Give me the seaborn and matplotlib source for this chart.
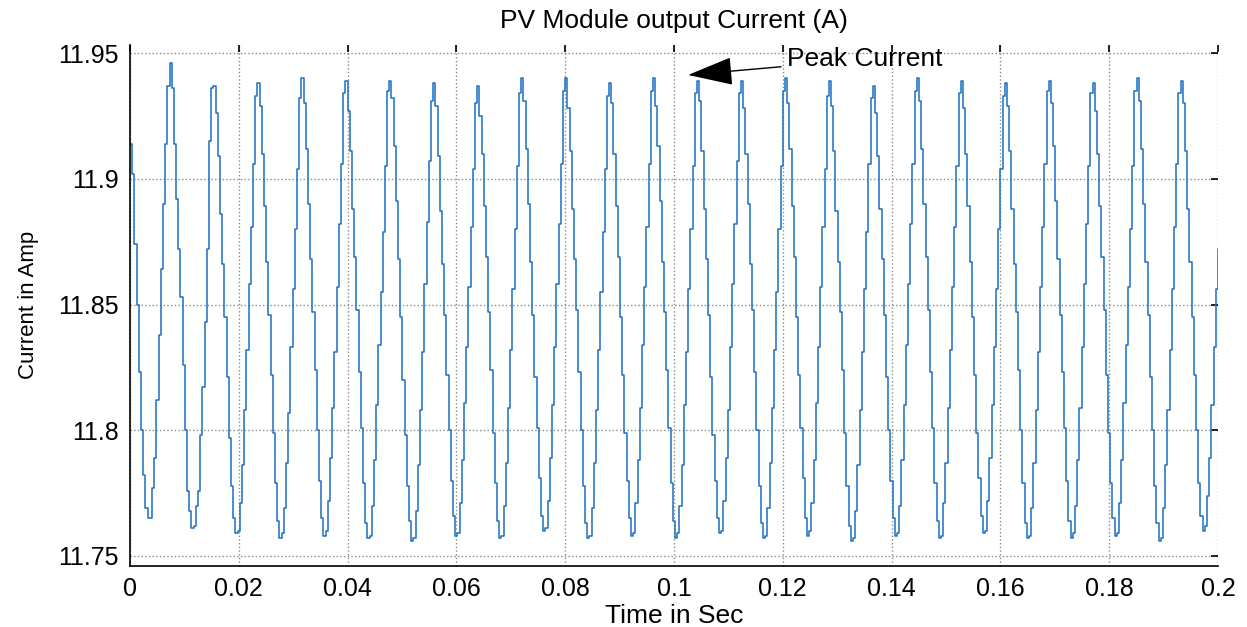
import matplotlib
matplotlib.use("Agg")
from matplotlib import pyplot as plt
import seaborn as sns
import pandas as pd
import numpy as np

# PV module output current (zero-order hold samples)
start_samples = [11.914, 11.902, 11.874, 11.850, 11.823, 11.800, 11.782, 11.769, 11.765,
                 11.765, 11.777, 11.789, 11.812, 11.838, 11.864, 11.890, 11.914, 11.937]
cycles = [
    [11.946, 11.936, 11.914, 11.892, 11.872, 11.853, 11.826, 11.800, 11.776, 11.768, 11.761, 11.762, 11.770, 11.776, 11.798, 11.817, 11.843, 11.872, 11.915, 11.936],
    [11.937, 11.926, 11.909, 11.886, 11.866, 11.845, 11.821, 11.797, 11.778, 11.765, 11.759, 11.760, 11.771, 11.786, 11.808, 11.832, 11.858, 11.881, 11.906, 11.933],
    [11.938, 11.929, 11.910, 11.889, 11.867, 11.846, 11.822, 11.799, 11.779, 11.764, 11.757, 11.759, 11.769, 11.787, 11.807, 11.833, 11.856, 11.880, 11.904, 11.932],
    [11.940, 11.930, 11.912, 11.890, 11.868, 11.847, 11.824, 11.800, 11.780, 11.765, 11.758, 11.760, 11.772, 11.789, 11.809, 11.831, 11.857, 11.882, 11.906, 11.934],
    [11.939, 11.927, 11.911, 11.888, 11.869, 11.848, 11.823, 11.801, 11.779, 11.763, 11.757, 11.758, 11.770, 11.788, 11.810, 11.834, 11.855, 11.879, 11.905, 11.935],
    [11.939, 11.932, 11.913, 11.891, 11.868, 11.845, 11.820, 11.798, 11.778, 11.764, 11.756, 11.757, 11.768, 11.786, 11.808, 11.831, 11.858, 11.883, 11.907, 11.931],
    [11.938, 11.929, 11.909, 11.887, 11.866, 11.846, 11.822, 11.800, 11.780, 11.766, 11.758, 11.759, 11.771, 11.788, 11.811, 11.833, 11.857, 11.881, 11.904, 11.930],
    [11.937, 11.925, 11.910, 11.889, 11.869, 11.847, 11.824, 11.799, 11.779, 11.764, 11.757, 11.758, 11.770, 11.787, 11.809, 11.832, 11.856, 11.880, 11.905, 11.934],
    [11.940, 11.931, 11.912, 11.890, 11.867, 11.846, 11.821, 11.801, 11.781, 11.766, 11.760, 11.761, 11.772, 11.789, 11.810, 11.833, 11.858, 11.882, 11.906, 11.935],
    [11.940, 11.928, 11.911, 11.888, 11.868, 11.848, 11.823, 11.800, 11.778, 11.763, 11.757, 11.758, 11.769, 11.787, 11.808, 11.832, 11.855, 11.879, 11.904, 11.933],
    [11.938, 11.930, 11.910, 11.889, 11.869, 11.845, 11.822, 11.799, 11.780, 11.765, 11.758, 11.759, 11.771, 11.788, 11.809, 11.834, 11.857, 11.881, 11.906, 11.935],
    [11.940, 11.929, 11.913, 11.891, 11.867, 11.847, 11.824, 11.801, 11.779, 11.764, 11.757, 11.759, 11.770, 11.786, 11.810, 11.831, 11.856, 11.880, 11.905, 11.934],
    [11.939, 11.931, 11.911, 11.888, 11.868, 11.846, 11.821, 11.798, 11.780, 11.765, 11.759, 11.760, 11.772, 11.789, 11.808, 11.833, 11.858, 11.882, 11.907, 11.934],
    [11.939, 11.928, 11.910, 11.890, 11.866, 11.848, 11.823, 11.800, 11.778, 11.763, 11.757, 11.758, 11.769, 11.787, 11.809, 11.832, 11.855, 11.880, 11.905, 11.935],
    [11.940, 11.930, 11.912, 11.889, 11.869, 11.845, 11.822, 11.801, 11.781, 11.765, 11.758, 11.760, 11.771, 11.788, 11.811, 11.833, 11.857, 11.881, 11.904, 11.933],
    [11.939, 11.929, 11.911, 11.887, 11.867, 11.847, 11.824, 11.799, 11.778, 11.762, 11.756, 11.757, 11.768, 11.786, 11.808, 11.831, 11.856, 11.879, 11.906, 11.932],
    [11.937, 11.926, 11.909, 11.888, 11.868, 11.846, 11.821, 11.800, 11.780, 11.765, 11.758, 11.759, 11.770, 11.788, 11.810, 11.834, 11.858, 11.882, 11.906, 11.935],
    [11.940, 11.931, 11.912, 11.890, 11.869, 11.848, 11.823, 11.801, 11.779, 11.764, 11.757, 11.758, 11.771, 11.787, 11.809, 11.832, 11.857, 11.881, 11.905, 11.934],
    [11.939, 11.928, 11.910, 11.889, 11.867, 11.845, 11.822, 11.799, 11.781, 11.766, 11.759, 11.760, 11.772, 11.789, 11.810, 11.833, 11.856, 11.880, 11.904, 11.933],
    [11.938, 11.929, 11.911, 11.888, 11.866, 11.847, 11.824, 11.800, 11.779, 11.763, 11.757, 11.758, 11.769, 11.787, 11.808, 11.831, 11.857, 11.881, 11.906, 11.935],
    [11.939, 11.930, 11.913, 11.891, 11.868, 11.846, 11.823, 11.801, 11.780, 11.764, 11.757, 11.759, 11.770, 11.788, 11.809, 11.833, 11.858, 11.882, 11.905, 11.934],
    [11.938, 11.927, 11.910, 11.889, 11.869, 11.848, 11.822, 11.799, 11.779, 11.765, 11.758, 11.759, 11.771, 11.788, 11.811, 11.834, 11.857, 11.880, 11.905, 11.935],
    [11.940, 11.931, 11.912, 11.890, 11.867, 11.846, 11.821, 11.800, 11.778, 11.763, 11.756, 11.757, 11.769, 11.786, 11.808, 11.832, 11.856, 11.881, 11.906, 11.934],
    [11.939, 11.930, 11.911, 11.888, 11.867, 11.845, 11.822, 11.800, 11.779, 11.766, 11.760, 11.762, 11.774, 11.789, 11.810, 11.833, 11.856, 11.872],
]
t_end = 0.2

x_ticks = [0, 0.02, 0.04, 0.06, 0.08, 0.1, 0.12, 0.14, 0.16, 0.18, 0.2]
x_labels = ["0", "0.02", "0.04", "0.06", "0.08", "0.1", "0.12", "0.14", "0.16", "0.18", "0.2"]
y_ticks = [11.75, 11.8, 11.85, 11.9, 11.95]
y_labels = ["11.75", "11.8", "11.85", "11.9", "11.95"]

current = start_samples + [v for c in cycles for v in c]
df = pd.DataFrame({"time": np.linspace(0, t_end, len(current)), "current": current})

sns.set_style("white")
plt.rcParams["font.family"] = ["Liberation Sans", "DejaVu Sans"]
plt.rcParams["text.color"] = "black"
plt.rcParams["axes.labelcolor"] = "black"

fig = plt.figure(figsize=(12.47, 6.27), dpi=100)
ax = fig.add_axes([0.1042, 0.0973, 0.8725, 0.8317])

sns.lineplot(data=df, x="time", y="current", ax=ax, color="#1a6fc4",
             linewidth=1.1, drawstyle="steps-post", estimator=None, sort=False)

ax.set_xlim(0, 0.2)
ax.set_ylim(11.746, 11.9534)
ax.set_xticks(x_ticks)
ax.set_xticklabels(x_labels)
ax.set_yticks(y_ticks)
ax.set_yticklabels(y_labels)
ax.tick_params(direction="in", length=5, width=1.2, labelsize=18, colors="black",
               top=True, right=True, pad=8)
ax.grid(True, color="#8a8a8a", linestyle=":", linewidth=1.0)

for side in ["top", "right"]:
    ax.spines[side].set_visible(False)
for side in ["left", "bottom"]:
    ax.spines[side].set_color("black")
    ax.spines[side].set_linewidth(1.2)

ax.set_title("PV Module output Current (A)", fontsize=19, pad=12, color="black")
ax.set_xlabel("Time in Sec", fontsize=19, labelpad=2)
ax.set_ylabel("Current in Amp", fontsize=16, labelpad=14)

ax.annotate("Peak Current", xy=(0.1026, 11.9413), xytext=(0.1208, 11.9475),
            fontsize=19, va="center", ha="left", color="black",
            arrowprops=dict(arrowstyle="-|>,head_length=0.8,head_width=0.25",
                            color="black", lw=1.0,
                            mutation_scale=36, shrinkA=2, shrinkB=0))

fig.savefig("out.png", dpi=100)
